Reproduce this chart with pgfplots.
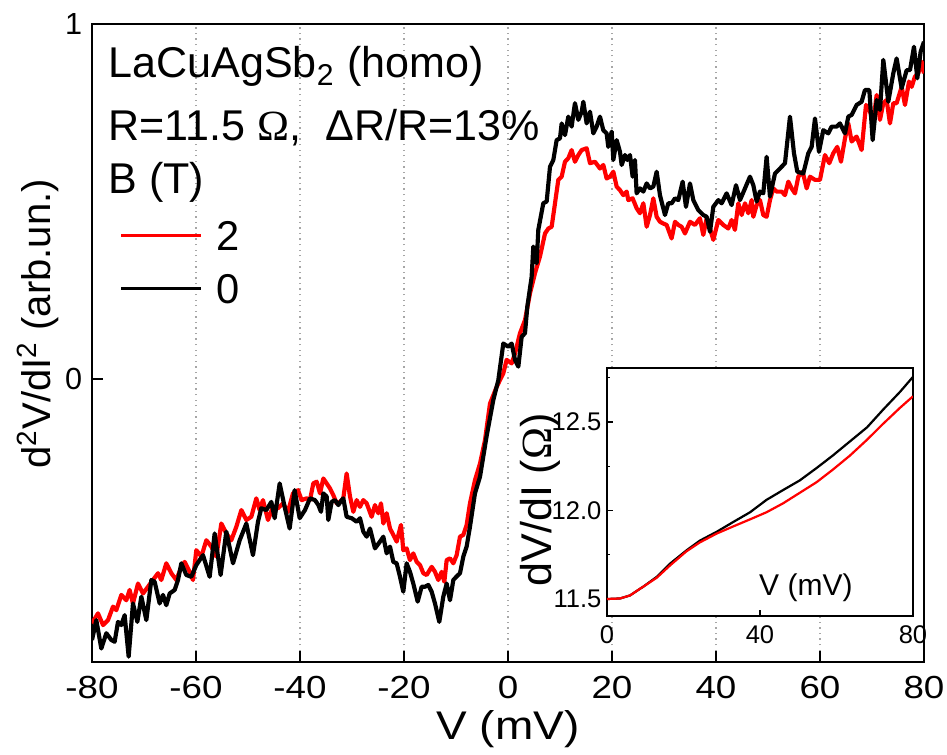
\documentclass[border=0pt]{standalone}
\usepackage{pgfplots}
\pgfplotsset{compat=1.18}
\usepackage{fontspec}
\setmainfont{Liberation Sans}
\newfontfamily\omfont{Liberation Serif}
\newfontfamily\widefont[FakeStretch=1.15]{Liberation Sans}
\newcommand{\Om}{{\omfont Ω}}

\pgfplotstableread{
x y
-80.00 -0.688
-78.85 -0.660
-77.88 -0.693
-76.92 -0.679
-75.96 -0.641
-75.32 -0.651
-74.36 -0.608
-73.40 -0.623
-72.76 -0.594
-72.12 -0.632
-71.15 -0.576
-70.19 -0.604
-69.23 -0.585
-68.27 -0.566
-67.31 -0.547
-66.67 -0.566
-65.71 -0.519
-64.74 -0.547
-63.78 -0.566
-62.82 -0.529
-62.18 -0.515
-61.22 -0.543
-60.58 -0.566
-59.94 -0.482
-58.97 -0.500
-58.01 -0.454
-57.05 -0.472
-56.09 -0.500
-55.13 -0.407
-54.17 -0.435
-53.21 -0.454
-52.24 -0.416
-51.28 -0.369
-50.32 -0.397
-49.36 -0.388
-48.40 -0.336
-47.76 -0.369
-47.12 -0.341
-46.15 -0.397
-45.19 -0.360
-44.23 -0.364
-43.27 -0.350
-42.31 -0.374
-41.35 -0.322
-40.38 -0.313
-39.68 -0.341
-38.72 -0.336
-38.08 -0.341
-37.44 -0.294
-36.79 -0.289
-36.15 -0.322
-35.51 -0.280
-34.87 -0.294
-34.23 -0.308
-33.59 -0.327
-32.95 -0.350
-32.31 -0.346
-31.67 -0.336
-31.03 -0.266
-30.38 -0.331
-29.74 -0.374
-29.10 -0.341
-28.46 -0.360
-27.82 -0.341
-27.18 -0.350
-26.22 -0.388
-25.58 -0.355
-24.94 -0.378
-24.42 -0.350
-23.97 -0.407
-23.33 -0.378
-22.69 -0.421
-22.05 -0.439
-21.41 -0.458
-20.58 -0.411
-20.13 -0.482
-19.49 -0.477
-18.85 -0.510
-18.21 -0.491
-17.56 -0.515
-16.92 -0.524
-16.28 -0.547
-15.64 -0.552
-14.68 -0.529
-14.04 -0.543
-13.40 -0.566
-12.76 -0.543
-12.24 -0.571
-11.79 -0.510
-11.15 -0.505
-10.51 -0.519
-9.87 -0.496
-9.23 -0.444
-8.59 -0.439
-7.95 -0.411
-7.31 -0.350
-6.35 -0.285
-5.38 -0.238
-4.42 -0.172
-3.46 -0.069
-2.18 -0.022
-0.90 0.016
-0.26 0.054
0.71 0.044
1.35 0.072
2.31 0.129
3.27 0.166
4.23 0.241
5.19 0.298
6.15 0.345
7.12 0.410
7.76 0.424
8.40 0.429
9.04 0.495
9.68 0.561
10.32 0.570
10.96 0.612
11.60 0.622
12.24 0.645
12.88 0.612
13.53 0.631
14.17 0.645
15.13 0.650
15.77 0.608
16.73 0.612
17.69 0.593
18.33 0.603
18.97 0.565
19.62 0.570
20.26 0.584
20.90 0.542
21.54 0.532
22.18 0.518
22.82 0.528
23.14 0.504
23.97 0.509
24.74 0.481
25.38 0.467
26.03 0.495
26.67 0.429
27.31 0.462
27.95 0.509
28.59 0.457
29.23 0.443
29.87 0.438
30.51 0.434
31.47 0.396
32.12 0.443
32.76 0.434
33.40 0.429
34.04 0.410
35.00 0.443
35.96 0.434
36.92 0.453
37.56 0.406
38.21 0.453
38.85 0.424
39.49 0.392
40.45 0.448
41.41 0.434
42.37 0.424
43.01 0.448
43.65 0.420
44.29 0.495
44.94 0.462
45.58 0.495
46.22 0.467
46.86 0.504
47.18 0.457
47.82 0.490
48.46 0.504
49.10 0.462
49.74 0.457
50.38 0.504
51.03 0.537
51.67 0.528
52.63 0.528
53.27 0.518
53.91 0.556
54.55 0.537
55.19 0.523
55.83 0.570
56.67 0.584
57.44 0.537
58.08 0.570
59.04 0.561
60.00 0.561
60.96 0.631
61.79 0.608
62.56 0.636
63.33 0.654
64.04 0.612
64.81 0.678
65.45 0.720
66.09 0.669
67.05 0.683
68.01 0.645
68.85 0.772
69.49 0.758
70.26 0.725
70.90 0.800
71.54 0.730
72.18 0.777
72.82 0.786
73.46 0.720
74.10 0.777
74.74 0.777
75.71 0.823
76.35 0.772
77.12 0.838
77.63 0.823
78.27 0.852
78.91 0.861
79.55 0.894
80.00 0.861
}\redtable

\pgfplotstableread{
x y
-80.00 -0.735
-79.17 -0.679
-78.21 -0.759
-77.24 -0.716
-76.28 -0.735
-75.64 -0.740
-75.00 -0.684
-74.36 -0.693
-73.72 -0.665
-72.95 -0.782
-72.12 -0.632
-71.28 -0.684
-70.51 -0.613
-69.55 -0.679
-68.59 -0.566
-67.95 -0.571
-66.99 -0.632
-66.35 -0.608
-65.71 -0.637
-65.06 -0.604
-64.10 -0.594
-63.46 -0.566
-62.82 -0.519
-61.86 -0.552
-60.90 -0.557
-59.94 -0.524
-58.65 -0.496
-57.37 -0.557
-56.41 -0.435
-55.26 -0.552
-54.17 -0.430
-52.88 -0.519
-51.60 -0.454
-50.32 -0.407
-49.04 -0.496
-48.08 -0.402
-47.44 -0.364
-46.47 -0.369
-45.51 -0.346
-44.87 -0.392
-43.91 -0.294
-42.95 -0.360
-41.99 -0.421
-41.03 -0.313
-40.06 -0.392
-39.04 -0.369
-38.08 -0.336
-37.12 -0.341
-36.47 -0.355
-35.96 -0.374
-35.51 -0.322
-34.87 -0.331
-34.55 -0.397
-33.91 -0.346
-33.27 -0.341
-32.63 -0.355
-31.99 -0.341
-31.67 -0.336
-31.03 -0.388
-30.06 -0.392
-29.10 -0.402
-28.46 -0.392
-27.82 -0.430
-27.18 -0.444
-26.54 -0.421
-25.58 -0.477
-24.62 -0.458
-23.97 -0.444
-23.33 -0.491
-22.69 -0.472
-22.05 -0.515
-21.41 -0.519
-20.77 -0.557
-20.13 -0.599
-19.49 -0.519
-18.85 -0.543
-18.21 -0.576
-17.37 -0.627
-16.60 -0.585
-15.96 -0.585
-15.32 -0.580
-14.68 -0.599
-14.04 -0.632
-13.21 -0.684
-12.44 -0.613
-11.79 -0.576
-11.15 -0.623
-10.51 -0.566
-9.87 -0.556
-9.23 -0.547
-8.59 -0.500
-7.95 -0.472
-7.31 -0.416
-6.35 -0.322
-5.38 -0.275
-4.10 -0.160
-2.82 -0.059
-1.86 -0.003
-0.90 0.100
0.06 0.091
0.71 0.100
1.35 0.054
1.99 0.035
2.63 0.119
3.27 0.129
3.72 0.204
4.55 0.288
4.87 0.373
5.51 0.326
5.83 0.420
6.79 0.495
7.44 0.500
8.08 0.598
8.72 0.617
9.36 0.673
10.00 0.678
10.32 0.720
10.96 0.687
11.60 0.739
12.24 0.711
12.88 0.777
13.53 0.730
14.17 0.753
14.49 0.781
15.13 0.720
15.77 0.753
16.41 0.692
17.05 0.711
17.69 0.739
18.33 0.701
18.97 0.692
19.29 0.654
19.94 0.697
20.26 0.617
20.90 0.673
21.54 0.640
21.86 0.603
22.50 0.631
22.95 0.617
23.46 0.631
23.97 0.570
24.42 0.617
24.74 0.523
25.38 0.537
26.03 0.528
26.67 0.551
27.31 0.537
27.95 0.542
28.59 0.584
29.23 0.518
30.19 0.462
30.83 0.495
31.47 0.495
32.12 0.509
32.76 0.504
33.59 0.556
34.23 0.485
35.00 0.551
35.64 0.504
36.60 0.476
37.56 0.462
38.21 0.457
38.85 0.415
39.49 0.485
40.45 0.504
41.09 0.495
42.05 0.523
43.01 0.490
43.85 0.546
44.62 0.504
45.58 0.537
46.54 0.570
47.18 0.546
47.82 0.500
48.46 0.528
49.10 0.523
49.74 0.626
50.38 0.514
51.35 0.579
52.31 0.593
53.27 0.608
54.23 0.739
55.00 0.636
55.64 0.584
56.79 0.579
57.76 0.636
58.40 0.654
59.04 0.734
59.81 0.640
60.64 0.701
61.60 0.692
62.24 0.711
63.21 0.711
63.85 0.720
64.81 0.692
65.45 0.739
66.09 0.744
67.05 0.772
68.01 0.781
68.65 0.814
69.49 0.814
70.13 0.673
70.90 0.786
71.54 0.758
72.18 0.899
73.14 0.781
74.10 0.861
74.74 0.903
75.71 0.819
76.67 0.870
77.31 0.870
78.08 0.936
78.72 0.847
79.36 0.922
80.00 0.950
}\blacktable

\pgfplotstableread{
x y
0.0 11.500
3.4 11.503
6.0 11.520
9.5 11.570
13.0 11.620
16.5 11.690
20.8 11.770
24.3 11.820
28.7 11.870
33.0 11.910
37.4 11.950
41.7 11.990
46.0 12.040
50.4 12.100
54.8 12.160
59.0 12.230
63.5 12.310
68.0 12.400
72.2 12.490
76.6 12.580
80.0 12.645
}\insetred

\pgfplotstableread{
x y
0.0 11.500
3.4 11.503
6.0 11.520
9.5 11.570
13.0 11.625
16.5 11.700
20.8 11.775
24.3 11.830
28.7 11.880
33.0 11.935
37.4 11.990
41.7 12.060
46.0 12.115
50.4 12.170
54.8 12.240
59.0 12.310
63.5 12.390
68.0 12.470
72.2 12.570
76.6 12.670
80.0 12.755
}\insetblack

\begin{document}
\begin{tikzpicture}
\path[use as bounding box] (-33.12pt,-33.12pt) rectangle (307.8pt,238.32pt);
\begin{axis}[
  at={(0pt,0pt)}, anchor=south west,
  width=299.52pt, height=229.68pt, scale only axis,
  xmin=-80, xmax=80, ymin=-0.797, ymax=1,
  xtick={-80,-60,...,80}, ytick={0,1},
  xtick pos=bottom, ytick pos=left, tick align=inside,
  major tick length=4pt,
  xmajorgrids,
  grid style={gray!70, line width=0.4pt, dash pattern=on 0.5pt off 1.5pt},
  axis line style={line width=0.55pt},
  tick style={line width=0.55pt, black},
  /pgf/number format/assume math mode=true,
  ticklabel style={font=\fontsize{11}{13}\selectfont},
  xticklabel style={yshift=-1.5pt, font=\widefont\fontsize{11.5}{13}\selectfont},
  xlabel={V (mV)},
  ylabel={d\textsuperscript{2}V/dI\textsuperscript{2} (arb.un.)},
  label style={font=\fontsize{14.4}{17}\selectfont},
  xlabel style={at={(axis description cs:0.5,-0.105)}, anchor=center, font=\widefont\fontsize{14.4}{17}\selectfont},
  ylabel style={at={(axis description cs:-0.065,0.53)}, anchor=center},
  legend style={draw=none, fill=none, at={(axis cs:-74.8,0.448)}, anchor=north west,
    inner sep=0pt, font=\fontsize{15}{18}\selectfont, row sep=8.4pt, column sep=5pt,
    nodes={inner sep=0pt, text height=10.7pt, text depth=0pt}},
  legend cell align=left,
  legend image code/.code={\draw[#1, line width=1.2pt] (0pt,0pt) -- (28.8pt,0pt);},
]
\addplot[red, line width=1.5pt, line join=round] table {\redtable};
\addlegendentry{2}
\addplot[black, line width=1.5pt, line join=round] table {\blacktable};
\addlegendentry{0}
\node[anchor=base west, inner sep=0pt, font=\fontsize{15.5}{18}\selectfont] at (axis cs:-76.9,0.848) {LaCuAgSb\textsubscript{2} (homo)};
\node[anchor=base west, inner sep=0pt, font=\fontsize{15.5}{18}\selectfont] at (axis cs:-76.9,0.673) {R=11.5 \Om,\ \ ΔR/R=13\%};
\node[anchor=base west, inner sep=0pt, font=\fontsize{15.5}{18}\selectfont] at (axis cs:-76.9,0.524) {B (T)};
\end{axis}

\begin{axis}[
  at={(185.4pt,16.56pt)}, anchor=south west,
  width=110.16pt, height=89.28pt, scale only axis,
  xmin=0, xmax=80, ymin=11.404, ymax=12.805,
  xtick={0,40,80}, ytick={11.5,12,12.5}, minor ytick={11.75,12.25,12.75},
  tick align=inside, xtick pos=bottom, ytick pos=left,
  major tick length=2pt, minor tick length=1.2pt,
  axis background/.style={fill=white},
  axis line style={line width=0.5pt},
  tick style={line width=0.5pt, black},
  /pgf/number format/assume math mode=true,
  ticklabel style={font=\fontsize{9.2}{11}\selectfont},
  yticklabel style={xshift=1.5pt, /pgf/number format/.cd, fixed, fixed zerofill, precision=1},
  ylabel={dV/dI (\Om)},
  ylabel style={at={(axis description cs:-0.219,0.468)}, anchor=center, font=\fontsize{15.5}{18}\selectfont},
]
\addplot[black, line width=0.8pt, line join=round] table {\insetblack};
\addplot[red, line width=0.8pt, line join=round] table {\insetred};
\node[anchor=center, font=\fontsize{10.8}{13}\selectfont] at (axis cs:52,11.562) {V (mV)};
\end{axis}
\end{tikzpicture}
\end{document}
